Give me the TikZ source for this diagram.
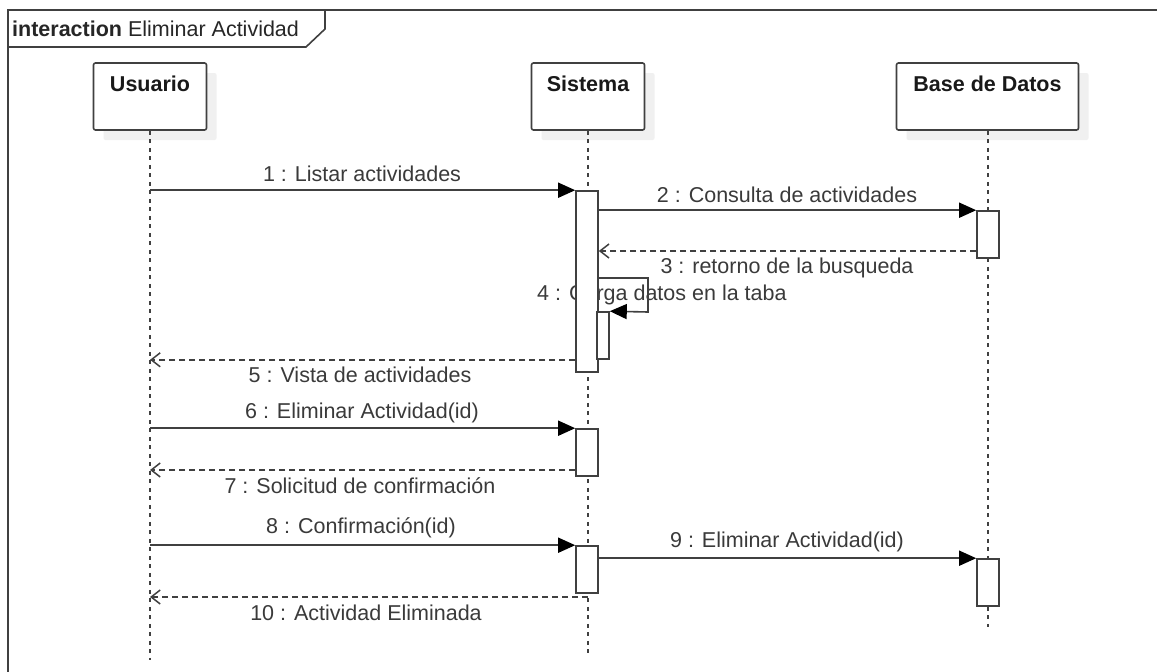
\documentclass[tikz,border=0pt]{standalone}
\usepackage{fontspec}
\setmainfont{Liberation Sans}
\usetikzlibrary{arrows.meta,shadows}
\definecolor{ln}{HTML}{404040}
\definecolor{txt}{HTML}{3A3A3A}
\definecolor{shd}{HTML}{F0F0F0}
\begin{document}
\begin{tikzpicture}[x=1pt,y=-1pt,
  every node/.style={font=\fontsize{21.5}{24}\selectfont},
  head/.style={draw=ln,line width=1.6pt,fill=white,rounded corners=2pt,
    minimum height=67pt,inner sep=0pt,
    drop shadow={shadow xshift=10pt,shadow yshift=-10pt,fill=shd,opacity=1}},
  headname/.style={anchor=north,yshift=-10pt,font=\fontsize{21.5}{24}\selectfont\bfseries,text=black!90},
  lifeline/.style={draw=ln,line width=1.8pt,dash pattern=on 4pt off 4.5pt},
  act/.style={draw=ln,line width=1.6pt,fill=white,minimum width=22pt,minimum height=47pt,inner sep=0pt},
  msg/.style={draw=ln,line width=1.6pt,-{Triangle[length=17pt,width=15pt,fill=black,color=black]}},
  ret/.style={draw=ln,line width=1.5pt,dash pattern=on 6pt off 4pt,
    -{Straight Barb[length=9pt,width=14pt,line width=1.5pt]}},
  lbl/.style={text=txt,inner sep=0pt}
]
\useasboundingbox (0,0) rectangle (1157,672);
\fill[white] (0,0) rectangle (1157,672);

% frame with its name tab
\draw[ln,line width=1.6pt] (1160,10) -- (8,10) -- (8,675);
\draw[ln,line width=1.6pt] (325,10) -- (325,29) -- (306,47) -- (8,47);
\node[anchor=west,inner sep=0pt,text=black!85] (title) at (12,29)
  {\textbf{interaction} Eliminar Actividad};

% lifeline heads
\node[head,minimum width=113pt,label={[headname]north:Usuario}] (u) at (150,96.5) {};
\node[head,minimum width=113pt,label={[headname]north:Sistema}] (s) at (588,96.5) {};
\node[head,minimum width=182pt,label={[headname]north:Base de Datos}] (d) at (987.5,96.5) {};

% lifelines
\coordinate (uend) at (150,660);
\coordinate (send) at (588,657);
\coordinate (dend) at (988,627);
\draw[lifeline] (u.south) -- (uend);
\draw[lifeline] (s.south) -- (send);
\draw[lifeline] (d.south -| dend) -- (dend);

% self message label sits under the activation bar
\node[lbl,anchor=west] (l4) at (537,295) {4 : Carga datos en la taba};

% activation bars
\node[act,minimum height=181pt] (a1) at (587,281.5) {};
\node[act] (b1) at (988,234.5) {};
\node[act,minimum width=12pt] (a4) at (603,335.5) {};
\node[act] (a2) at (587,452.5) {};
\node[act] (a3) at (587,569.5) {};
\node[act] (b2) at (988,582.5) {};

% messages
\draw[msg] (u |- a1.north) -- (a1.north west);
\draw[msg] (a1.east |- b1.north) -- (b1.north west);
\draw[ret] (b1.west |- 0,251) -- (a1.east |- 0,251);
\draw[msg] (a1.east |- 0,278) -- (648,278) -- (648,312) -- (a4.north east);
\draw[ret] (a1.west |- a4.south) -- (u |- a4.south);
\draw[msg] (u |- a2.north) -- (a2.north west);
\draw[ret] (a2.west |- 0,470) -- (u |- 0,470);
\draw[msg] (u |- a3.north) -- (a3.north west);
\draw[msg] (a3.east |- b2.north) -- (b2.north west);
\draw[ret] (s |- 0,597) -- (u |- 0,597);

% message labels
\node[lbl] (l1) at (362,174) {1 : Listar actividades};
\node[lbl] (l2) at (787,195) {2 : Consulta de actividades};
\node[lbl] (l3) at (787,268) {3 : retorno de la busqueda};
\node[lbl] (l5) at (360,375) {5 : Vista de actividades};
\node[lbl] (l6) at (362,413) {6 : Eliminar Actividad(id)};
\node[lbl] (l7) at (360,486) {7 : Solicitud de confirmación};
\node[lbl] (l8) at (361,528) {8 : Confirmación(id)};
\node[lbl] (l9) at (787,542) {9 : Eliminar Actividad(id)};
\node[lbl] (l10) at (366,613) {10 : Actividad Eliminada};
\end{tikzpicture}
\end{document}
